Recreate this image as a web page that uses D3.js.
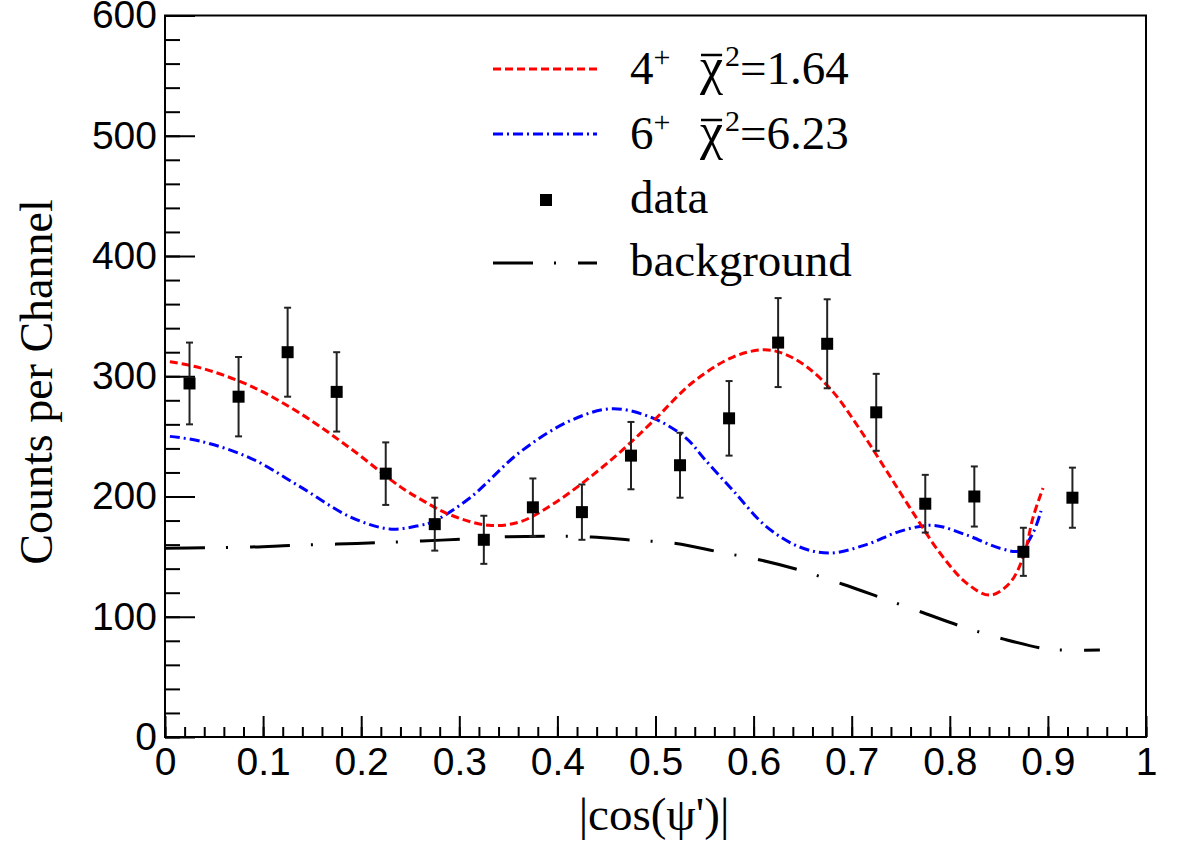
<!DOCTYPE html>
<html>
<head>
<meta charset="utf-8">
<script src="https://cdn.jsdelivr.net/npm/d3@7"></script>
<style>
  body { margin: 0; background: #fff; }
</style>
</head>
<body>
<div id="chart"></div>
<script>
// Measured counts per |cos(psi')| bin
const binCenters = [0.025, 0.075, 0.125, 0.175, 0.225, 0.275, 0.325, 0.375, 0.425, 0.475,
  0.525, 0.575, 0.625, 0.675, 0.725, 0.775, 0.825, 0.875, 0.925];
const counts = [294, 283, 320, 287, 219, 177, 164, 191, 187, 234,
  226, 265, 328, 327, 270, 194, 200, 154, 199];
const countErrors = [34, 33, 37, 33, 26, 22, 20, 24, 23, 28,
  27, 31, 37, 37, 32, 24, 25, 20, 25];

// 4+ fit curve
const fit4X = [0.005, 0.036, 0.087, 0.138, 0.189, 0.24, 0.262, 0.29, 0.33, 0.362, 0.396, 0.43, 0.464,
  0.498, 0.538, 0.579, 0.61, 0.63, 0.654, 0.681, 0.709, 0.735, 0.763, 0.79, 0.817, 0.841,
  0.861, 0.875, 0.885, 0.895];
const fit4Y = [312, 307, 292, 269, 240, 208, 197, 185, 176, 179, 194, 214, 237,
  263, 295, 316, 322, 319, 308, 287, 255, 222, 186, 153, 128, 118,
  128, 150, 183, 207];

// 6+ fit curve
const fit6X = [0.005, 0.036, 0.087, 0.138, 0.189, 0.229, 0.26, 0.273, 0.311, 0.362, 0.413, 0.456,
  0.498, 0.532, 0.549, 0.579, 0.613, 0.647, 0.678, 0.715, 0.749, 0.783, 0.817, 0.851,
  0.8715, 0.885, 0.893];
const fit6Y = [250, 246, 232, 208, 183, 173, 176, 179, 199, 237, 263, 273,
  265, 248, 232, 205, 175, 158, 153, 160, 171, 176, 168, 157,
  155, 170, 188];

// background curve
const bkgX = [0, 0.04, 0.088, 0.129, 0.175, 0.216, 0.262, 0.302, 0.348, 0.391, 0.435, 0.477,
  0.521, 0.564, 0.608, 0.649, 0.691, 0.73, 0.773, 0.813, 0.856, 0.897, 0.919, 0.953];
const bkgY = [157, 157.3, 158, 159.3, 160.4, 161.5, 163, 164.5, 166.5, 167, 166.3, 163.7,
  161, 154, 147, 138.3, 127, 115.8, 103.3, 91.7, 81.2, 73.4, 72.3, 72.3];

// Axis ticks
const xTickValues = [0, 0.1, 0.2, 0.3, 0.4, 0.5, 0.6, 0.7, 0.8, 0.9, 1];
const xTickLabels = ["0", "0.1", "0.2", "0.3", "0.4", "0.5", "0.6", "0.7", "0.8", "0.9", "1"];
const yTickValues = [0, 100, 200, 300, 400, 500, 600];

// Legend entries
const fitLabels = [["4", "1.64"], ["6", "6.23"]];

const width = 1182, height = 848;
const plotLeft = 165, plotRight = 1146, plotTop = 15.5, plotBottom = 737;
const serif = "Liberation Serif, Times New Roman, serif";
const sans = "Liberation Sans, Arial, sans-serif";

const svg = d3.select("#chart").append("svg")
  .attr("width", width)
  .attr("height", height)
  .style("background", "#fff");

const x = d3.scaleLinear().domain([0, 1]).range([plotLeft, plotRight]);
const y = d3.scaleLinear().domain([0, 600]).range([plotBottom, plotTop]);

// Minor ticks
svg.append("g")
  .attr("transform", `translate(0,${plotBottom})`)
  .call(d3.axisBottom(x).tickValues(x.ticks(50)).tickSize(-10).tickSizeOuter(0).tickFormat(""))
  .call(g => g.select(".domain").remove())
  .call(g => g.selectAll("line").attr("stroke-width", 2));
svg.append("g")
  .attr("transform", `translate(${plotLeft},0)`)
  .call(d3.axisLeft(y).tickValues(y.ticks(30)).tickSize(-15).tickSizeOuter(0).tickFormat(""))
  .call(g => g.select(".domain").remove())
  .call(g => g.selectAll("line").attr("stroke-width", 2));

// Major ticks + labels
svg.append("g")
  .attr("transform", `translate(0,${plotBottom})`)
  .call(d3.axisBottom(x).tickValues(xTickValues).tickSize(-21).tickSizeOuter(0).tickPadding(10)
    .tickFormat((d, i) => xTickLabels[i]))
  .call(g => g.select(".domain").remove())
  .call(g => g.selectAll("line").attr("stroke-width", 2))
  .call(g => g.selectAll("text").attr("font-family", sans)
    .attr("font-size", 39).attr("fill", "#000"));
svg.append("g")
  .attr("transform", `translate(${plotLeft},0)`)
  .call(d3.axisLeft(y).tickValues(yTickValues).tickSize(-30).tickSizeOuter(0).tickPadding(8))
  .call(g => g.select(".domain").remove())
  .call(g => g.selectAll("line").attr("stroke-width", 2))
  .call(g => g.selectAll("text").attr("font-family", sans)
    .attr("font-size", 39).attr("fill", "#000"));

// Frame
svg.append("rect")
  .attr("x", plotLeft).attr("y", plotTop)
  .attr("width", plotRight - plotLeft).attr("height", plotBottom - plotTop)
  .attr("fill", "none").attr("stroke", "#000").attr("stroke-width", 2);

// Axis titles
svg.append("text")
  .attr("x", 654).attr("y", 830)
  .attr("text-anchor", "middle")
  .attr("font-family", serif)
  .attr("font-size", 47)
  .text("|cos(ψ')|");
svg.append("text")
  .attr("transform", "translate(52,382) rotate(-90)")
  .attr("text-anchor", "middle")
  .attr("font-family", serif)
  .attr("font-size", 46)
  .text("Counts per Channel");

const line = d3.line()
  .x(d => x(d[0]))
  .y(d => y(d[1]))
  .curve(d3.curveCatmullRom.alpha(0.5));

// Background curve
svg.append("path")
  .datum(d3.zip(bkgX, bkgY))
  .attr("d", line)
  .attr("fill", "none").attr("stroke", "#000").attr("stroke-width", 3)
  .attr("stroke-dasharray", "40,21,2,22");

// Fit curves
svg.append("path")
  .datum(d3.zip(fit6X, fit6Y))
  .attr("d", line)
  .attr("fill", "none").attr("stroke", "#0000ff").attr("stroke-width", 3)
  .attr("stroke-dasharray", "10,4,2,4");
svg.append("path")
  .datum(d3.zip(fit4X, fit4Y))
  .attr("d", line)
  .attr("fill", "none").attr("stroke", "#ff0000").attr("stroke-width", 3)
  .attr("stroke-dasharray", "8,4");

// Data points with error bars
const data = binCenters.map((c, i) => ({ c, v: counts[i], e: countErrors[i] }));
const pts = svg.append("g").selectAll("g")
  .data(data)
  .enter()
  .append("g");
pts.append("line")
  .attr("x1", d => x(d.c)).attr("x2", d => x(d.c))
  .attr("y1", d => y(d.v - d.e)).attr("y2", d => y(d.v + d.e))
  .attr("stroke", "#222").attr("stroke-width", 2);
pts.append("line")
  .attr("x1", d => x(d.c) - 3.5).attr("x2", d => x(d.c) + 3.5)
  .attr("y1", d => y(d.v + d.e)).attr("y2", d => y(d.v + d.e))
  .attr("stroke", "#222").attr("stroke-width", 2);
pts.append("line")
  .attr("x1", d => x(d.c) - 3.5).attr("x2", d => x(d.c) + 3.5)
  .attr("y1", d => y(d.v - d.e)).attr("y2", d => y(d.v - d.e))
  .attr("stroke", "#222").attr("stroke-width", 2);
pts.append("rect")
  .attr("x", d => x(d.c) - 6).attr("y", d => y(d.v) - 6)
  .attr("width", 12).attr("height", 12)
  .attr("fill", "#000");

// Legend
const legend = svg.append("g")
  .attr("font-family", serif)
  .attr("font-size", 47);
const rowY = [69, 134, 200, 263];
legend.append("line").attr("x1", 493).attr("x2", 597).attr("y1", rowY[0]).attr("y2", rowY[0])
  .attr("stroke", "#ff0000").attr("stroke-width", 3).attr("stroke-dasharray", "8,4");
legend.append("line").attr("x1", 493).attr("x2", 597).attr("y1", rowY[1]).attr("y2", rowY[1])
  .attr("stroke", "#0000ff").attr("stroke-width", 3).attr("stroke-dasharray", "10,4,2,4");
legend.append("rect").attr("x", 540).attr("y", rowY[2] - 6).attr("width", 12).attr("height", 12)
  .attr("fill", "#000");
legend.append("line").attr("x1", 493).attr("x2", 597).attr("y1", rowY[3]).attr("y2", rowY[3])
  .attr("stroke", "#000").attr("stroke-width", 3).attr("stroke-dasharray", "40,21,2,22");

fitLabels.forEach((lab, i) => {
  const t = legend.append("text").attr("x", 630).attr("y", rowY[i] + 15);
  t.append("tspan").text(lab[0]);
  t.append("tspan").attr("font-size", 30).attr("dy", -17).text("+");
  t.append("tspan").attr("x", 700).attr("dy", 17).attr("font-size", 52).text("χ");
  t.append("tspan").attr("font-size", 30).attr("dx", 2).attr("dy", -18).text("2");
  t.append("tspan").attr("dy", 18).text("=" + lab[1]);
  // overline above chi
  const node = t.node();
  const s = node.getStartPositionOfChar(2).x;
  const e = node.getEndPositionOfChar(2).x;
  legend.append("line")
    .attr("x1", s + 1).attr("x2", e - 1)
    .attr("y1", rowY[i] - 14).attr("y2", rowY[i] - 14)
    .attr("stroke", "#000").attr("stroke-width", 2.5);
});
legend.append("text").attr("x", 630).attr("y", rowY[2] + 13).text("data");
legend.append("text").attr("x", 630).attr("y", rowY[3] + 13).text("background");
</script>
</body>
</html>
